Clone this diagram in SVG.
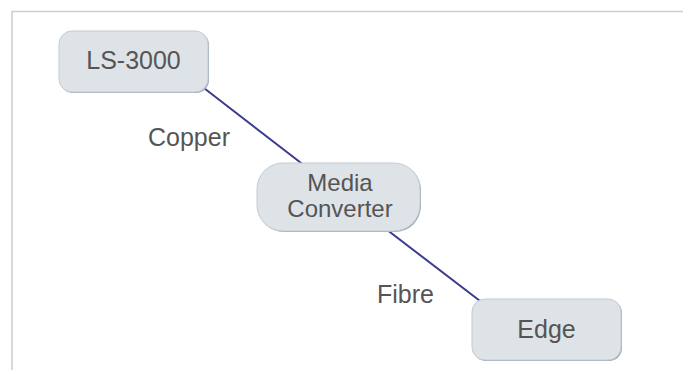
<svg xmlns="http://www.w3.org/2000/svg" width="683" height="370" viewBox="0 0 683 370">
<style>
.frame{fill:none;stroke:#c6cdd6;stroke-width:1.5}
.node rect.shadow{fill:#9eabb8}
.node rect.body{fill:#dee3e8;stroke:#c3cbd3;stroke-width:1}
.node text{font-family:"Liberation Sans",Arial,sans-serif;font-size:25px;fill:#555555;text-anchor:middle}
.node text.two{font-size:24px}
.conn line{stroke:#3b3b8e;stroke-width:2}
.lbl{font-family:"Liberation Sans",Arial,sans-serif;font-size:25px;fill:#555555}
</style>
<rect width="683" height="370" fill="#ffffff"/>
<path class="frame" d="M12,370 V11.5 H683"/>
<g id="connectors" class="conn">
<line x1="200" y1="85" x2="305" y2="166"/>
<line x1="382" y1="226" x2="484" y2="304"/>
<text class="lbl" x="148" y="146">Copper</text>
<text class="lbl" x="377" y="303">Fibre</text>
</g>
<g id="ls3000" class="node">
<rect class="shadow" x="60" y="32" width="149" height="61" rx="13"/>
<rect class="body" x="59" y="31" width="149" height="61" rx="13"/>
<text x="133.5" y="69">LS-3000</text>
</g>
<g id="mediaconverter" class="node">
<rect class="shadow" x="258" y="164" width="163" height="68" rx="26"/>
<rect class="body" x="257" y="163" width="163" height="68" rx="26"/>
<text class="two" x="340" y="191">Media</text>
<text class="two" x="340" y="217">Converter</text>
</g>
<g id="edge" class="node">
<rect class="shadow" x="473" y="300" width="149" height="61" rx="13"/>
<rect class="body" x="472" y="299" width="149" height="61" rx="13"/>
<text x="546.5" y="338">Edge</text>
</g>
</svg>
